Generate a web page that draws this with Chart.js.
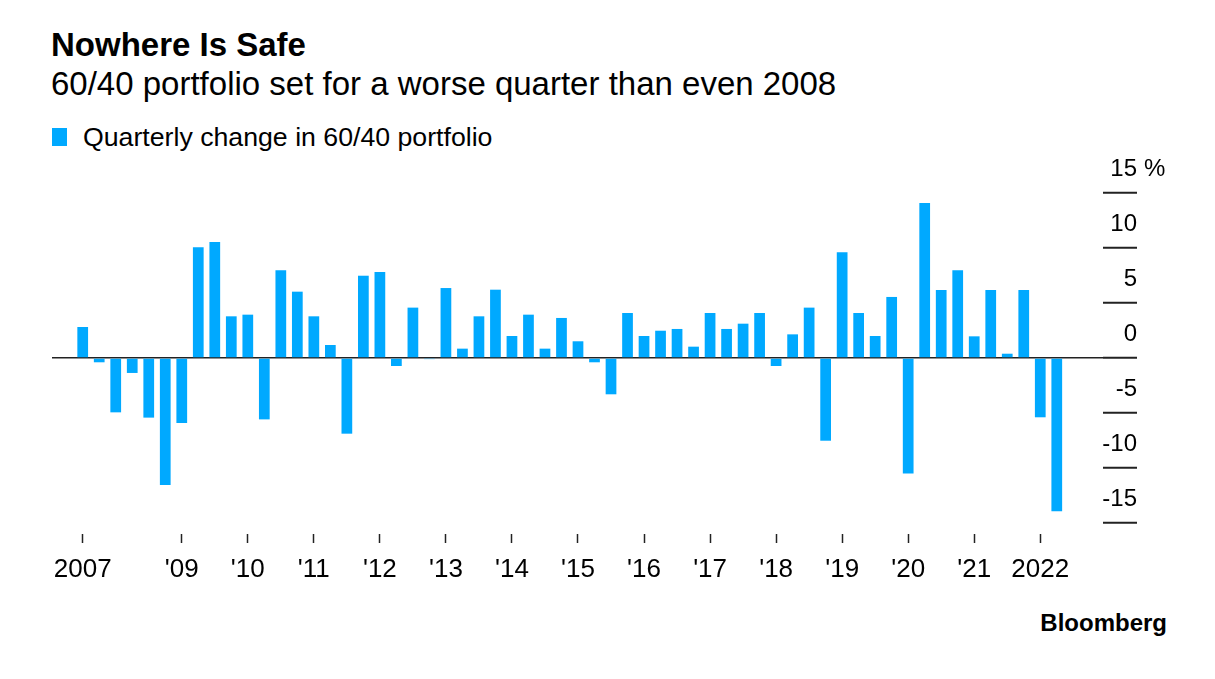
<!DOCTYPE html>
<html>
<head>
<meta charset="utf-8">
<script src="https://cdn.jsdelivr.net/npm/chart.js@4/dist/chart.umd.min.js"></script>
<style>
  html, body { margin: 0; padding: 0; background: #fff; }
  body { width: 1215px; height: 679px; position: relative; overflow: hidden;
         font-family: "Liberation Sans", Arial, sans-serif; color: #000; }
  .txt { position: absolute; line-height: 1; white-space: nowrap; }
  #title { left: 51px; top: 28px; font-size: 33px; font-weight: bold; }
  #subtitle { left: 51px; top: 67px; font-size: 33px; }
  #legend { left: 52px; top: 124px; font-size: 26.7px; }
  #legend .swatch { position: absolute; left: 0; top: 4px; width: 15px; height: 18px; background: #00a9ff; }
  #legend span.lbl { position: absolute; left: 31px; top: 0; }
  #source { right: 48px; top: 611px; font-size: 24px; font-weight: bold; }
  #wrap { position: absolute; left: 0; top: 0; width: 1215px; height: 679px; }
</style>
</head>
<body>
<div id="title" class="txt">Nowhere Is Safe</div>
<div id="subtitle" class="txt">60/40 portfolio set for a worse quarter than even 2008</div>
<div id="legend" class="txt"><div class="swatch"></div><span class="lbl">Quarterly change in 60/40 portfolio</span></div>
<div id="source" class="txt">Bloomberg</div>
<div id="wrap"><canvas id="chart"></canvas></div>

<script>
// quarters from 3Q 2007 to 2Q 2022
var quarters = [
    '3Q07', '4Q07',
    '1Q08', '2Q08', '3Q08', '4Q08',
    '1Q09', '2Q09', '3Q09', '4Q09',
    '1Q10', '2Q10', '3Q10', '4Q10',
    '1Q11', '2Q11', '3Q11', '4Q11',
    '1Q12', '2Q12', '3Q12', '4Q12',
    '1Q13', '2Q13', '3Q13', '4Q13',
    '1Q14', '2Q14', '3Q14', '4Q14',
    '1Q15', '2Q15', '3Q15', '4Q15',
    '1Q16', '2Q16', '3Q16', '4Q16',
    '1Q17', '2Q17', '3Q17', '4Q17',
    '1Q18', '2Q18', '3Q18', '4Q18',
    '1Q19', '2Q19', '3Q19', '4Q19',
    '1Q20', '2Q20', '3Q20', '4Q20',
    '1Q21', '2Q21', '3Q21', '4Q21',
    '1Q22', '2Q22'
];
// quarterly change in 60/40 portfolio, %
var change = [
    2.82, -0.39,
    -4.94, -1.36, -5.42, -11.55,
    -5.91, 10.06, 10.55, 3.79,
    3.94, -5.58, 7.97, 6.03,
    3.79, 1.18, -6.88, 7.48,
    7.82, -0.73, 4.58, -0.1,
    6.36, 0.85, 3.79, 6.21,
    2.0, 3.94, 0.85, 3.64,
    1.52, -0.39, -3.30, 4.09,
    2.0, 2.48, 2.64, 1.03,
    4.09, 2.64, 3.12, 4.09,
    -0.73, 2.15, 4.58, -7.52,
    9.61, 4.09, 2.0, 5.55,
    -10.5, 14.09, 6.18, 7.97,
    1.97, 6.18, 0.39, 6.18,
    -5.39, -13.94
];
// year ticks: index into quarters, and their labels
var yearTickIdx = [0, 6, 10, 14, 18, 22, 26, 30, 34, 38, 42, 46, 50, 54, 58];
var yearTickLabels = ['2007', "'09", "'10", "'11", "'12", "'13", "'14", "'15",
                      "'16", "'17", "'18", "'19", "'20", "'21", '2022'];
var yTicks = [-15, -10, -5, 0, 5, 10, 15];
var yUnit = '%';

var barColor = '#00a9ff';
var yLabelOffset = -24;

Chart.defaults.font.family = '"Liberation Sans", Arial, sans-serif';
Chart.defaults.color = '#000';

// puts the unit next to the top y label
var unitLabel = {
    id: 'unitLabel',
    afterDraw: function (chart) {
        var y = chart.scales.y;
        var ctx = chart.ctx;
        ctx.save();
        ctx.font = '24px "Liberation Sans", Arial, sans-serif';
        ctx.fillStyle = '#000';
        ctx.textAlign = 'left';
        ctx.textBaseline = 'middle';
        ctx.fillText(yUnit, y.right + 7, y.getPixelForValue(yTicks[yTicks.length - 1]) + yLabelOffset);
        ctx.restore();
    }
};

function createBarChart(chartId) {
    var ctx = document.getElementById(chartId).getContext('2d');
    return new Chart(ctx, {
        type: 'bar',
        data: {
            datasets: [{
                label: 'Quarterly change in 60/40 portfolio',
                data: change.map(function (v, i) { return { x: i, y: v }; }),
                backgroundColor: barColor,
                borderWidth: 0,
                categoryPercentage: 1,
                barPercentage: 0.65
            }]
        },
        options: {
            responsive: true,
            maintainAspectRatio: false,
            animation: false,
            layout: { padding: { left: 52, right: 78, top: 193, bottom: 85 } },
            plugins: {
                legend: { display: false },
                tooltip: {
                    callbacks: {
                        title: function (items) { return quarters[items[0].parsed.x]; }
                    }
                }
            },
            scales: {
                x: {
                    type: 'linear',
                    offset: false,
                    min: -1.86,
                    max: 61.8,
                    afterBuildTicks: function (scale) {
                        scale.ticks = yearTickIdx.map(function (v) { return { value: v }; });
                    },
                    afterFit: function (scale) { scale.height = 60; },
                    grid: {
                        offset: false,
                        drawOnChartArea: false,
                        drawTicks: true,
                        tickLength: 9,
                        tickColor: '#222',
                        tickWidth: 1.5
                    },
                    border: { display: false },
                    ticks: {
                        autoSkip: false,
                        maxRotation: 0,
                        padding: 11,
                        font: { size: 26 },
                        callback: function (value) {
                            var k = yearTickIdx.indexOf(value);
                            return k >= 0 ? yearTickLabels[k] : '';
                        }
                    }
                },
                y: {
                    position: 'right',
                    min: -16,
                    max: 15,
                    afterBuildTicks: function (scale) {
                        scale.ticks = yTicks.map(function (v) { return { value: v }; });
                    },
                    afterFit: function (scale) { scale.width = 34; },
                    grid: {
                        drawOnChartArea: true,
                        color: function (c) {
                            return c.tick && c.tick.value === 0 ? '#222' : 'rgba(0,0,0,0)';
                        },
                        lineWidth: 1.5,
                        drawTicks: true,
                        tickLength: 34,
                        tickColor: '#222',
                        tickWidth: 2
                    },
                    border: { display: false },
                    ticks: {
                        mirror: true,
                        padding: 34,
                        labelOffset: yLabelOffset,
                        font: { size: 24 },
                        callback: function (value) { return String(value); }
                    }
                }
            }
        },
        plugins: [unitLabel]
    });
}

createBarChart('chart');
</script>
</body>
</html>
